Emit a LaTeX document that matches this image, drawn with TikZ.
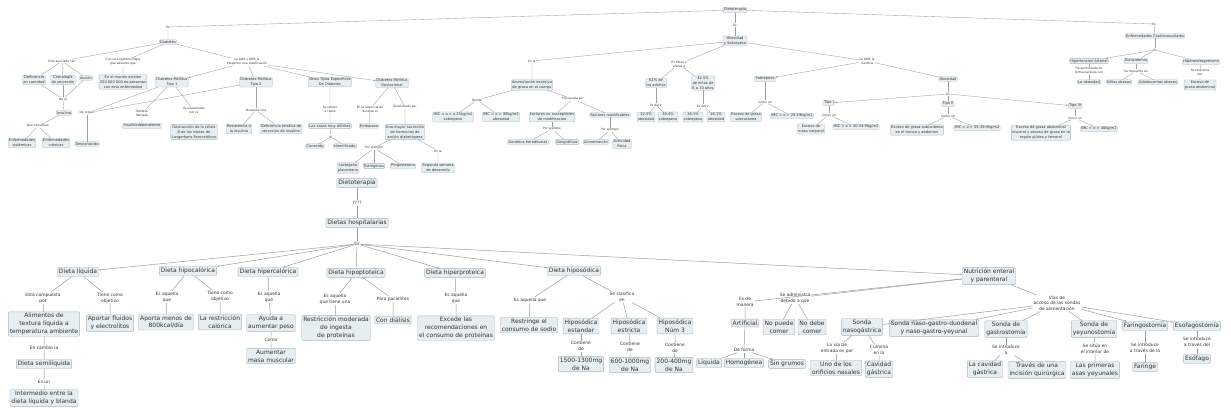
\documentclass[tikz,border=0pt]{standalone}
\usepackage{fontspec}
\setmainfont{DejaVu Sans}
\usepackage{tikz}
\usetikzlibrary{arrows.meta}
\definecolor{cfill}{HTML}{E6EEF1}
\definecolor{cborder}{HTML}{A9B8BF}
\definecolor{cline}{HTML}{9E9E9E}
\definecolor{ctext}{HTML}{333333}
\begin{document}
\begin{tikzpicture}[x=1pt,y=-1pt,
  concept/.style={draw=cborder,fill=cfill,rounded corners=1pt,align=center,inner sep=1.5pt,text=ctext,font=\fontsize{6}{7.8}\selectfont},
  cpt/.style={concept,inner sep=0.8pt,line width=0.3pt,font=\fontsize{3.6}{5}\selectfont},
  link/.style={align=center,inner sep=0.8pt,text=ctext,font=\fontsize{4.4}{5.6}\selectfont},
  lnk/.style={link,inner sep=0.4pt,font=\fontsize{3}{3.8}\selectfont},
  edge/.style={draw=cline,line width=0.5pt},
  sedge/.style={draw=cline,line width=0.35pt},
  arr/.style={-{Stealth[length=2.2pt,width=1.8pt]}}]
\fill[white] (0,0) rectangle (1231,413);
\useasboundingbox (0,0) rectangle (1231,413);
\node[cpt] (root) at (735,10) {Dietoterapia};
\node[lnk] (r1) at (168,27) {Es};
\node[lnk] (r2) at (735,25) {Es};
\node[lnk] (r3) at (1154,24) {Es};
\node[cpt] (diab) at (168,42) {Diabetes};
\node[cpt] (obes) at (735,41) {Obesidad\\y Sobrepeso};
\node[cpt] (enfc) at (1155,36) {Enfermedades Cardiovasculares};
\node[lnk] (d1) at (62,61) {Está asociada con};
\node[lnk] (d2) at (123,62) {Con una epidemiología\\que advierte que};
\node[lnk] (d3) at (247,62) {La ADA y OMS la\\proponen una clasificación};
\node[cpt] (defc) at (34,80) {Deficiencia\\en cantidad};
\node[cpt] (cron) at (63,80) {Cronología\\de secreción};
\node[cpt] (acci) at (86,78) {Acción};
\node[cpt] (mund) at (123,82) {En el mundo existen\\250 000 000 de personas\\con esta enfermedad};
\node[cpt] (dmt1) at (172,82) {Diabetes Mellitus\\Tipo 1};
\node[cpt] (dmt2) at (256,82) {Diabetes Mellitus\\Tipo 2};
\node[cpt] (otro) at (330,82) {Otros Tipos Específicos\\De Diabetes};
\node[cpt] (gest) at (392,83) {Diabetes Mellitus\\Gestacional};
\node[lnk] (d4) at (63,99) {De la};
\node[cpt] (insu) at (64,113) {Insulina};
\node[lnk] (d5) at (87,113) {De origen};
\node[lnk] (d6) at (38,126) {Que ocasionan};
\node[cpt] (ensi) at (22,143) {Enfermedades\\sistémicas};
\node[cpt] (encr) at (56,143) {Enfermedades\\crónicas};
\node[cpt] (desc) at (87,144) {Desconocido};
\node[lnk] (d7) at (142,113) {También\\llamada};
\node[cpt] (indp) at (142,126) {Insulinodependiente};
\node[lnk] (d8) at (194,111) {Es ocasionado\\por la};
\node[cpt] (dest) at (194,132) {Destrucción de la célula\\β de los islotes de\\Langerhans Pancreáticos};
\node[lnk] (d9) at (256,110) {Ocasiona una};
\node[cpt] (resi) at (239,129) {Resistencia a\\la insulina};
\node[cpt] (defr) at (281,129) {Deficiencia relativa de\\secreción de insulina};
\node[lnk] (d10) at (330,109) {Se refiere\\a casos};
\node[cpt] (casos) at (330,126) {Los casos muy difíciles};
\node[lnk] (d11) at (331,137) {Ni};
\node[cpt] (cono) at (315,146) {Conocido};
\node[cpt] (iden) at (345,146) {Identificado};
\node[lnk] (d12) at (370,109) {En la ausencia de\\durante el};
\node[cpt] (emba) at (369,126) {Embarazo};
\node[lnk] (d13) at (405,107) {Ocasionado por};
\node[cpt] (secr) at (405,132) {Una mayor secreción\\de hormonas de\\acción diabetógena};
\node[lnk] (d14) at (374,148) {Por ejemplo};
\node[lnk] (d15) at (438,151) {En la};
\node[cpt] (lact) at (348,168) {Lactógeno\\placentario};
\node[cpt] (estr) at (374,166) {Estrógenos};
\node[cpt] (prog) at (403,166) {Progesterona};
\node[cpt] (segu) at (438,168) {Segunda semana\\de desarrollo};
\node[lnk] (o1) at (532,61) {Es la};
\node[lnk] (o2) at (679,64) {En México\\afecta a};
\node[lnk] (o3) at (867,61) {La OMS la\\clasifica};
\node[cpt] (acum) at (532,85) {Acumulación excesiva\\de grasa en el cuerpo};
\node[lnk] (o4) at (477,100) {Donde};
\node[lnk] (o5) at (573,99) {Provocada por};
\node[cpt] (imc25) at (453,117) {IMC = o > a 25kg/m2\\sobrepeso};
\node[cpt] (imc30) at (501,117) {IMC = o > 30kg/m2\\obesidad};
\node[cpt] (fnos) at (552,117) {Factores no susceptibles\\de modificación};
\node[cpt] (fmod) at (610,115) {Factores modificables};
\node[lnk] (o6) at (552,129) {Por ejemplo};
\node[cpt] (gene) at (528,142) {Genética-hereditarias};
\node[cpt] (geog) at (567,142) {Geográficas};
\node[lnk] (o7) at (610,130) {Por ejemplo};
\node[cpt] (alim) at (596,142) {Alimentación};
\node[cpt] (acti) at (622,144) {Actividad\\física};
\node[cpt] (p62) at (656,83) {62\% de\\los adultos};
\node[cpt] (p42) at (703,83) {42.5\%\\de niños de\\6 a 10 años};
\node[lnk] (o8) at (656,105) {Es decir};
\node[lnk] (o9) at (703,106) {Es decir};
\node[cpt] (p225) at (646,117) {22.5\%\\obesidad};
\node[cpt] (p394) at (668,117) {39.4\%\\sobrepeso};
\node[cpt] (p261) at (693,117) {26.1\%\\sobrepeso};
\node[cpt] (p161) at (716,117) {16.1\%\\obesidad};
\node[cpt] (sobr) at (765,79) {Sobrepeso};
\node[lnk] (o10) at (765,102) {Como un};
\node[cpt] (exsc) at (746,117) {Exceso de grasa\\subcutánea};
\node[cpt] (imc2529) at (792,116) {IMC = o > 25-29kg/m2};
\node[cpt] (obsd) at (948,79) {Obesidad};
\node[lnk] (o11) at (948,94) {Es};
\node[cpt] (tp1) at (829,103) {Tipo I};
\node[lnk] (o12) at (829,115) {Como un};
\node[cpt] (exmc) at (811,129) {Exceso de\\masa corporal};
\node[cpt] (imc30b) at (856,127) {IMC = o > 30-34.9kg/m2};
\node[cpt] (tp2) at (948,104) {Tipo II};
\node[lnk] (o13) at (948,116) {Como un};
\node[cpt] (exst) at (917,130) {Exceso de grasa subcutánea\\en el tronco y abdomen};
\node[cpt] (imc35) at (977,128) {IMC = o > 35-39.9kg/m2};
\node[cpt] (tp3) at (1075,106) {Tipo III};
\node[lnk] (o14) at (1075,118) {Como un};
\node[cpt] (exab) at (1041,133) {Exceso de grasa abdominal\\visceral y exceso de grasa en la\\región glútea y femoral};
\node[cpt] (imc40) at (1099,129) {IMC = o > 40kg/m2};
\node[lnk] (e1) at (1155,50) {Es};
\node[cpt] (hipa) at (1089,61) {Hipertensión Arterial};
\node[cpt] (disl) at (1136,61) {Dislipidemia};
\node[cpt] (hipe) at (1201,62) {Hiperandrogenismo};
\node[lnk] (e2) at (1089,71) {Ha aumentado de\\forma paralela con};
\node[cpt] (laob) at (1089,82) {La obesidad};
\node[lnk] (e3) at (1136,71) {Se frecuenta en};
\node[cpt] (nino) at (1119,82) {Niños obesos};
\node[cpt] (adol) at (1158,82) {Adolescentes obesos};
\node[lnk] (e4) at (1200,73) {Se relaciona\\por};
\node[cpt] (exga) at (1200,85) {Exceso de\\grasa abdominal};
\node[concept] (diet) at (357,183) {Dietoterapia};
\node[link] (q) at (357,203) {????};
\node[concept] (hosp) at (357,223) {Dietas hospitalarias};
\node[link] (hub) at (357,244) {Es};
\node[concept] (dliq) at (78,272) {Dieta líquida};
\node[concept] (dhpc) at (188,271) {Dieta hipocalórica};
\node[concept] (dhrc) at (268,272) {Dieta hipercalórica};
\node[concept] (dhpp) at (356,273) {Dieta hipoptoteica};
\node[concept] (dhrp) at (455,273) {Dieta hiperproteica};
\node[concept] (dhps) at (574,271) {Dieta hiposódica};
\node[concept] (nutr) at (989,276) {Nutrición enteral\\y parenteral};
\node[link] (l1) at (43,298) {Está compuesta\\por};
\node[link] (l2) at (110,298) {Tiene como\\objetivo};
\node[concept] (alim2) at (44,324) {Alimentos de\\textura líquida a\\temperatura ambiente};
\node[concept] (apor) at (110,323) {Aportar fluidos\\y electrolitos};
\node[link] (l3) at (44,348) {En cambio la};
\node[concept] (dsem) at (44,364) {Dieta semilíquida};
\node[link] (l4) at (44,382) {Es un};
\node[concept] (inte) at (44,398) {Intermedio entre la\\dieta líquida y blanda};
\node[link] (c1) at (167,297) {Es aquella\\que};
\node[link] (c2) at (220,296) {Tiene como\\objetivo};
\node[concept] (apme) at (166,322) {Aporta menos de\\800kcal/día};
\node[concept] (lare) at (220,322) {La restricción\\calórica};
\node[link] (h1) at (269,297) {Es aquella\\que};
\node[concept] (ayud) at (271,323) {Ayuda a\\aumentar peso};
\node[link] (h2) at (271,340) {Como};
\node[concept] (aume) at (271,356) {Aumentar\\masa muscular};
\node[link] (t1) at (335,299) {Es aquella\\que tiene una};
\node[link] (t2) at (393,299) {Para pacientes};
\node[concept] (rest) at (336,328) {Restricción moderada\\de ingesta\\de proteínas};
\node[concept] (cond) at (393,320) {Con diálisis};
\node[link] (pp1) at (456,298) {Es aquella\\que};
\node[concept] (exce) at (456,328) {Excede las\\recomendaciones en\\el consumo de proteínas};
\node[link] (s1) at (530,300) {Es aquella que};
\node[link] (s2) at (622,297) {Se clasifica\\en};
\node[concept] (rsod) at (529,325) {Restringe el\\consumo de sodio};
\node[concept] (hest) at (581,326) {Hiposódica\\estandar};
\node[concept] (hstr) at (629,326) {Hiposódica\\estricta};
\node[concept] (hn3) at (675,326) {Hiposódica\\Núm 3};
\node[link] (s3) at (581,346) {Contiene\\de};
\node[link] (s4) at (630,347) {Contiene\\de};
\node[link] (s5) at (675,348) {Contiene\\de};
\node[concept] (na1) at (581,364) {1500-1300mg\\de Na};
\node[concept] (na2) at (630,365) {600-1000mg\\de Na};
\node[concept] (na3) at (674,365) {200-400mg\\de Na};
\node[link] (n1) at (795,298) {Se administra\\debido a que};
\node[link] (n2) at (745,302) {Es de\\manera};
\node[link] (n3) at (1057,303) {Vías de\\acceso de las sondas\\de alimentación};
\node[concept] (arti) at (745,323) {Artificial};
\node[concept] (nopu) at (779,327) {No puede\\comer};
\node[concept] (nodb) at (812,327) {No debe\\comer};
\node[link] (n4) at (744,350) {De forma};
\node[concept] (liqu) at (709,363) {Líquida};
\node[concept] (homo) at (744,363) {Homogénea};
\node[concept] (sgru) at (787,364) {Sin grumos};
\node[concept] (snas) at (862,327) {Sonda\\nasogástrica};
\node[link] (n5) at (837,348) {La vía de\\entrada es por};
\node[link] (n6) at (879,350) {Culmina\\en la};
\node[concept] (orif) at (836,368) {Uno de los\\orificios nasales};
\node[concept] (cavg) at (879,369) {Cavidad\\gástrica};
\node[concept] (sngd) at (934,328) {Sonda naso-gastro-duodenal\\y naso-gastro-yeyunal};
\node[concept] (sgas) at (1006,329) {Sonda de\\gastrostomía};
\node[link] (n7) at (1006,350) {Se introduce\\a};
\node[concept] (lcav) at (985,369) {La cavidad\\gástrica};
\node[concept] (trav) at (1037,370) {Través de una\\incisión quirúrgica};
\node[concept] (syey) at (1094,329) {Sonda de\\yeyunostomía};
\node[link] (n8) at (1095,349) {Se sitúa en\\el interior de};
\node[concept] (lasp) at (1095,370) {Las primeras\\asas yeyunales};
\node[concept] (fari) at (1145,326) {Faringostomía};
\node[link] (n9) at (1145,348) {Se introduce\\a través de la};
\node[concept] (farg) at (1145,367) {Faringe};
\node[concept] (esof) at (1197,326) {Esofagostomía};
\node[link] (n10) at (1197,342) {Se introduce\\a través del};
\node[concept] (esog) at (1197,359) {Esófago};
\draw[sedge] (root) -- (r1) -- (diab);
\draw[sedge] (root) -- (r2) -- (obes);
\draw[sedge] (root) -- (r3) -- (enfc);
\draw[sedge] (diab) -- (d1);
\draw[sedge] (d1) -- (defc);
\draw[sedge] (d1) -- (cron);
\draw[sedge] (d1) -- (acci);
\draw[sedge] (diab) -- (d2) -- (mund);
\draw[sedge] (diab) -- (d3);
\draw[sedge,arr] (d3) -- (dmt1);
\draw[sedge] (d3) -- (dmt2);
\draw[sedge] (d3) -- (otro);
\draw[sedge,arr] (d3) -- (gest);
\draw[sedge] (defc) -- (d4);
\draw[sedge] (cron) -- (d4);
\draw[sedge] (acci) -- (d4);
\draw[sedge] (d4) -- (insu) -- (d6);
\draw[sedge] (d6) -- (ensi);
\draw[sedge] (d6) -- (encr);
\draw[sedge] (dmt1) -- (d5);
\draw[sedge] (dmt2) -- (d5);
\draw[sedge] (d5) -- (desc);
\draw[sedge] (dmt1) -- (d7) -- (indp);
\draw[sedge] (dmt1) -- (d8) -- (dest);
\draw[sedge] (dmt2) -- (d9);
\draw[sedge] (d9) -- (resi);
\draw[sedge] (d9) -- (defr);
\draw[sedge] (otro) -- (d10) -- (casos) -- (d11);
\draw[sedge] (d11) -- (cono);
\draw[sedge] (d11) -- (iden);
\draw[sedge] (gest) -- (d12) -- (emba);
\draw[sedge] (gest) -- (d13) -- (secr);
\draw[sedge] (secr) -- (d14);
\draw[sedge] (d14) -- (lact);
\draw[sedge] (d14) -- (estr);
\draw[sedge] (d14) -- (prog);
\draw[sedge] (secr) -- (d15) -- (segu);
\draw[sedge] (obes) -- (o1) -- (acum);
\draw[sedge] (acum) -- (o4);
\draw[sedge] (o4) -- (imc25);
\draw[sedge] (o4) -- (imc30);
\draw[sedge] (acum) -- (o5);
\draw[sedge] (o5) -- (fnos);
\draw[sedge] (o5) -- (fmod);
\draw[sedge] (fnos) -- (o6);
\draw[sedge] (o6) -- (gene);
\draw[sedge] (o6) -- (geog);
\draw[sedge] (fmod) -- (o7);
\draw[sedge] (o7) -- (alim);
\draw[sedge] (o7) -- (acti);
\draw[sedge] (obes) -- (o2);
\draw[sedge] (o2) -- (p62);
\draw[sedge] (o2) -- (p42);
\draw[sedge] (p62) -- (o8);
\draw[sedge] (o8) -- (p225);
\draw[sedge] (o8) -- (p394);
\draw[sedge] (p42) -- (o9);
\draw[sedge] (o9) -- (p261);
\draw[sedge] (o9) -- (p161);
\draw[sedge] (obes) -- (o3);
\draw[sedge,arr] (o3) -- (sobr);
\draw[sedge] (o3) -- (obsd);
\draw[sedge] (sobr) -- (o10);
\draw[sedge] (o10) -- (exsc);
\draw[sedge] (o10) -- (imc2529);
\draw[sedge] (obsd) -- (o11);
\draw[sedge,arr] (o11) -- (tp1);
\draw[sedge] (o11) -- (tp2);
\draw[sedge,arr] (o11) -- (tp3);
\draw[sedge] (tp1) -- (o12);
\draw[sedge] (o12) -- (exmc);
\draw[sedge] (o12) -- (imc30b);
\draw[sedge] (tp2) -- (o13);
\draw[sedge] (o13) -- (exst);
\draw[sedge] (o13) -- (imc35);
\draw[sedge] (tp3) -- (o14);
\draw[sedge] (o14) -- (exab);
\draw[sedge] (o14) -- (imc40);
\draw[sedge] (enfc) -- (e1);
\draw[sedge,arr] (e1) -- (hipa);
\draw[sedge] (e1) -- (disl);
\draw[sedge] (e1) -- (hipe);
\draw[sedge] (hipa) -- (e2) -- (laob);
\draw[sedge] (disl) -- (e3);
\draw[sedge] (e3) -- (nino);
\draw[sedge] (e3) -- (adol);
\draw[sedge] (hipe) -- (e4) -- (exga);
\draw[edge] (diet) -- (q) -- (hosp) -- (hub);
\draw[edge,arr] (hub) -- (dliq);
\draw[edge,arr] (hub) -- (dhpc);
\draw[edge,arr] (hub) -- (dhrc);
\draw[edge] (hub) -- (dhpp);
\draw[edge,arr] (hub) -- (dhrp);
\draw[edge,arr] (hub) -- (dhps);
\draw[edge,arr] (hub) -- (nutr);
\draw[edge] (dliq) -- (l1) -- (alim2) -- (l3) -- (dsem) -- (l4) -- (inte);
\draw[edge] (dliq) -- (l2) -- (apor);
\draw[edge] (dhpc) -- (c1) -- (apme);
\draw[edge] (dhpc) -- (c2) -- (lare);
\draw[edge] (dhrc) -- (h1) -- (ayud) -- (h2) -- (aume);
\draw[edge] (dhpp) -- (t1) -- (rest);
\draw[edge] (dhpp) -- (t2) -- (cond);
\draw[edge] (dhrp) -- (pp1) -- (exce);
\draw[edge] (dhps) -- (s1) -- (rsod);
\draw[edge] (dhps) -- (s2);
\draw[edge] (s2) -- (hest);
\draw[edge] (s2) -- (hstr);
\draw[edge] (s2) -- (hn3);
\draw[edge] (hest) -- (s3) -- (na1);
\draw[edge] (hstr) -- (s4) -- (na2);
\draw[edge] (hn3) -- (s5) -- (na3);
\draw[edge] (nutr) -- (n1);
\draw[edge] (n1) -- (nopu);
\draw[edge] (n1) -- (nodb);
\draw[edge] (nutr) -- (n2) -- (arti) -- (n4);
\draw[edge] (n4) -- (liqu);
\draw[edge] (n4) -- (homo);
\draw[edge,arr] (n4) -- (sgru);
\draw[edge] (nutr) -- (n3);
\draw[edge] (n3) -- (snas);
\draw[edge,arr] (n3) -- (sngd);
\draw[edge] (n3) -- (sgas);
\draw[edge] (n3) -- (syey);
\draw[edge,arr] (n3) -- (fari);
\draw[edge,arr] (n3) -- (esof);
\draw[edge] (snas) -- (n5) -- (orif);
\draw[edge] (snas) -- (n6) -- (cavg);
\draw[edge] (sgas) -- (n7);
\draw[edge] (n7) -- (lcav);
\draw[edge] (n7) -- (trav);
\draw[edge] (syey) -- (n8) -- (lasp);
\draw[edge] (fari) -- (n9) -- (farg);
\draw[edge] (esof) -- (n10) -- (esog);
\end{tikzpicture}
\end{document}
